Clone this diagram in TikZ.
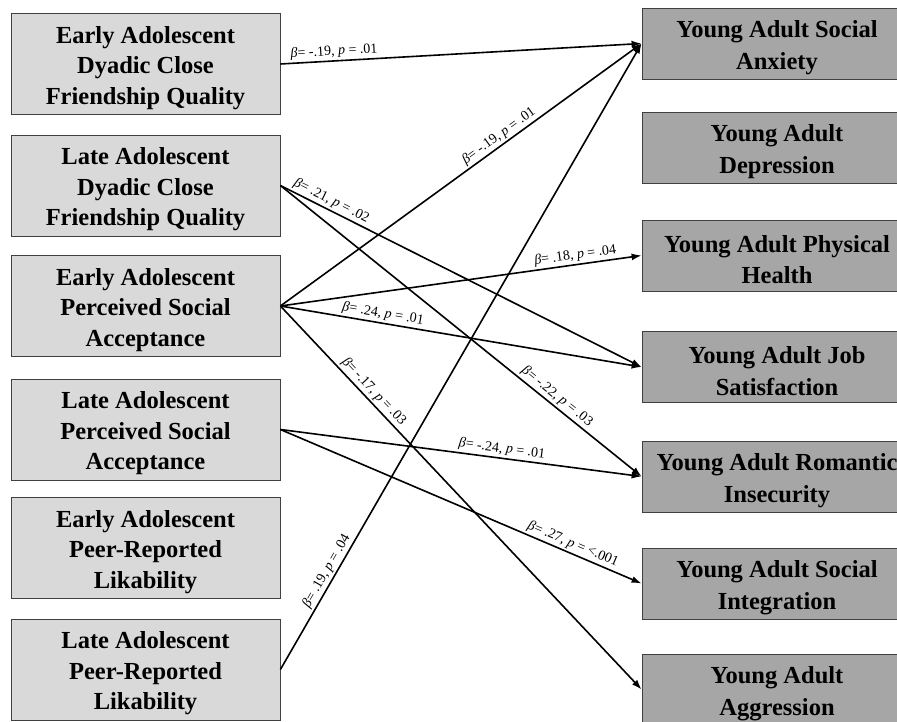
\documentclass[tikz,border=0pt]{standalone}
\usepackage{fontspec}
\setmainfont{Liberation Serif}
\usetikzlibrary{arrows.meta}
\definecolor{leftgray}{HTML}{D9D9D9}
\definecolor{rightgray}{HTML}{A6A6A6}
\newcommand\boxstrut{\rule{0pt}{25pt}}

\begin{document}
\begin{tikzpicture}[x=1pt,y=-1pt,
  lbox/.style={draw=black!75,line width=0.8pt,fill=leftgray,minimum width=269pt,minimum height=101pt,
    align=center,font=\bfseries\fontsize{24.5}{30.5}\selectfont,inner sep=0pt},
  rbox/.style={draw=black!75,line width=0.8pt,fill=rightgray,minimum width=270pt,minimum height=71pt,
    align=center,font=\bfseries\fontsize{24.5}{31.5}\selectfont,inner sep=0pt},
  path/.style={draw,line width=1.6pt,-{Latex[length=10pt,width=7pt]}},
  lab/.style={font=\fontsize{14}{16}\selectfont,inner sep=2pt,sloped,above}]
\useasboundingbox (0,0) rectangle (897,722);
\clip (0,0) rectangle (897,722);
\newcommand\bp[2]{\textit{β}= #1, \textit{p} = #2}
% predictors
\node[lbox] (a1) at (145.5,64) {\boxstrut Early Adolescent\\Dyadic Close\\Friendship Quality};
\node[lbox] (a2) at (145.5,185.5) {\boxstrut Late Adolescent\\Dyadic Close\\Friendship Quality};
\node[lbox] (a3) at (145.5,306) {\boxstrut Early Adolescent\\Perceived Social\\Acceptance};
\node[lbox] (a4) at (145.5,429.5) {\boxstrut Late Adolescent\\Perceived Social\\Acceptance};
\node[lbox] (a5) at (145.5,548) {\boxstrut Early Adolescent\\Peer-Reported\\Likability};
\node[lbox] (a6) at (145.5,669.5) {\boxstrut Late Adolescent\\Peer-Reported\\Likability};
% outcomes
\node[rbox] (b1) at (777,43.5) {\boxstrut Young Adult Social\\Anxiety};
\node[rbox] (b2) at (777,147.5) {\boxstrut Young Adult\\Depression};
\node[rbox] (b3) at (777,255.5) {\boxstrut Young Adult Physical\\Health};
\node[rbox] (b4) at (777,367) {\boxstrut Young Adult Job\\Satisfaction};
\node[rbox] (b5) at (777,476.5) {\boxstrut Young Adult Romantic\\Insecurity};
\node[rbox] (b6) at (777,583.5) {\boxstrut Young Adult Social\\Integration};
\node[rbox] (b7) at (777,689.5) {\boxstrut Young Adult\\Aggression};
% paths
\path[path] (a1.east) -- node[lab,pos=0.15] {\bp{-.19}{.01}} (b1.west);
\path[path] (a3.east) -- node[lab,pos=0.62] {\bp{-.19}{.01}} (b1.west);
\path[path] (a6.east) -- node[lab,pos=0.15] {\bp{.19}{.04}} (b1.west);
\path[path] (a2.east) -- node[lab,pos=0.13] {\bp{.21}{.02}} (b4.west);
\path[path] (a2.east) -- node[lab,pos=0.75] {\bp{-.22}{.03}} (b5.west);
\path[path] (a3.east) -- node[lab,pos=0.82] {\bp{.18}{.04}} (b3.west);
\path[path] (a3.east) -- node[lab,pos=0.28] {\bp{.24}{.01}} (b4.west);
\path[path] (a3.east) -- node[lab,pos=0.24] {\bp{-.17}{.03}} (b7.west);
\path[path] (a4.east) -- node[lab,pos=0.61] {\bp{-.24}{.01}} (b5.west);
\path[path] (a4.east) -- node[lab,pos=0.80] {\bp{.27}{<.001}} (b6.west);
\end{tikzpicture}
\end{document}
